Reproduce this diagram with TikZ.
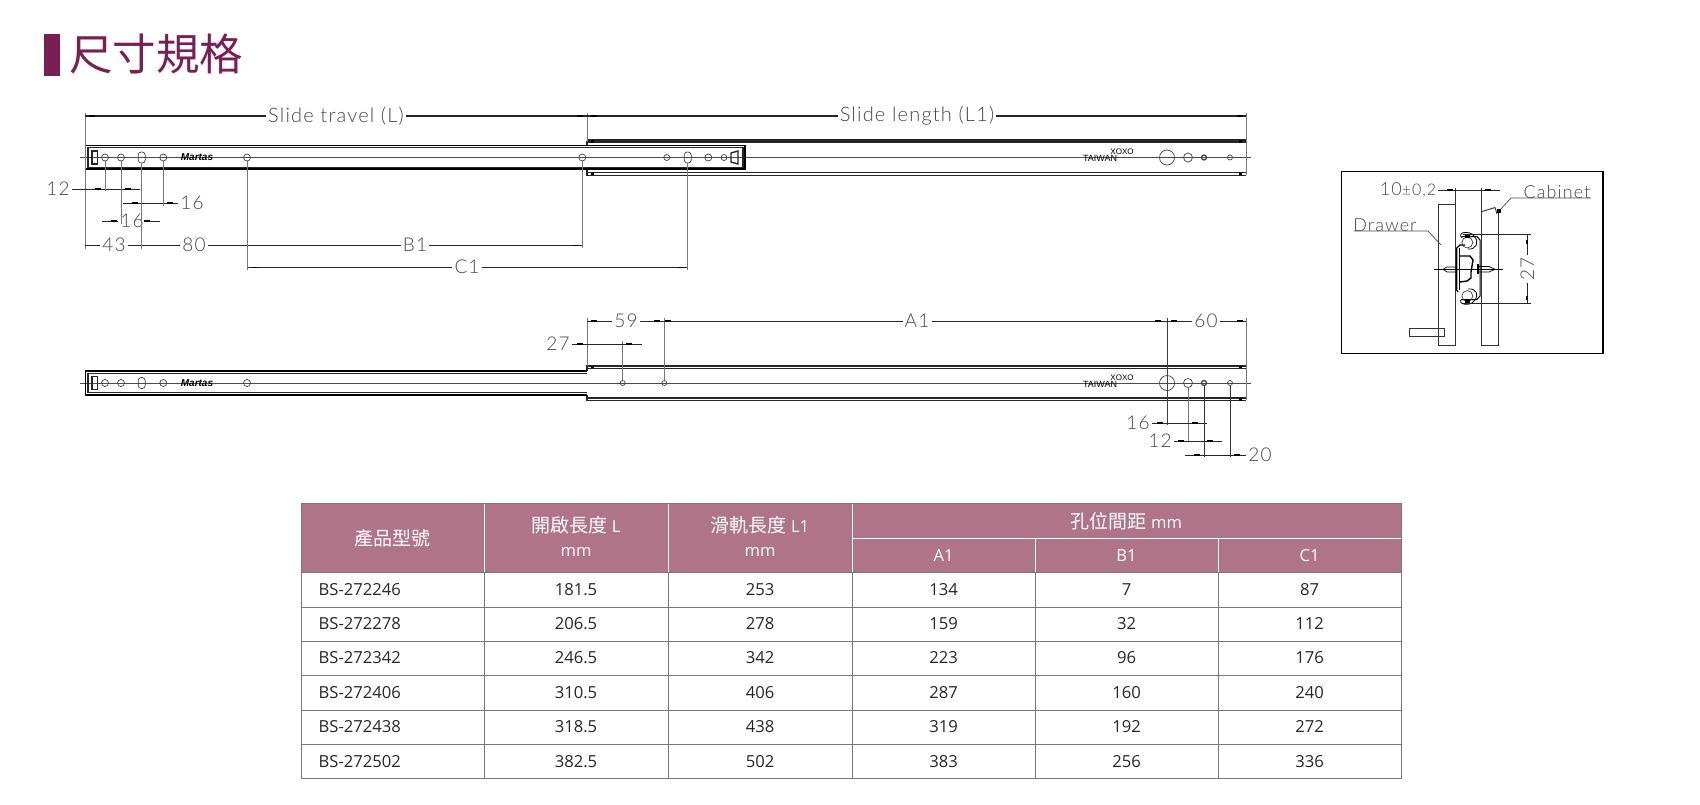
\documentclass[tikz,border=0pt]{standalone}
\usepackage{fontspec}
\setmainfont{Open Sans}
\newfontfamily\cjk{Noto Sans CJK TC}
\newfontfamily\cadfont[UprightFont=*-Light,LetterSpace=6]{Lato}
\newfontfamily\markfont{Liberation Sans}
\definecolor{titlec}{RGB}{122,30,86}
\definecolor{headc}{RGB}{176,116,137}
\definecolor{gridc}{RGB}{120,120,120}
\definecolor{cadc}{RGB}{70,70,70}
\tikzset{
	railline/.style={line width=1.1pt, color=black!85},
	railthick/.style={line width=1.5pt, color=black},
	centerline/.style={line width=0.9pt, color=black!70},
	dimline/.style={line width=1pt, color=black!85},
	extline/.style={line width=1pt, color=gridc},
	dimtick/.style={line width=2pt, color=black},
	hole/.style={draw, circle, minimum size=7pt, inner sep=0pt, line width=0.7pt, color=black!75},
	slot/.style={draw, rounded corners=3pt, minimum width=7pt, minimum height=11pt, inner sep=0pt, line width=0.7pt, color=black!75},
	cadtext/.style={font=\fontsize{19}{20}\selectfont\cadfont, text=cadc, inner sep=2pt},
	cadlabel/.style={cadtext, font=\fontsize{18}{20}\selectfont\cadfont},
	cadtitle/.style={cadtext, font=\fontsize{20}{22}\selectfont\cadfont},
	cell/.style={font=\fontsize{16.6}{18}\selectfont, text=black!85, inner sep=0pt},
	headtext/.style={font=\fontsize{16.6}{18}\selectfont, text=white, inner sep=0pt},
	headcjk/.style={font=\fontsize{19}{20}\selectfont\cjk, text=white, inner sep=0pt},
}
\begin{document}
\begin{tikzpicture}[x=1pt, y=-1pt]
	\useasboundingbox (0,0) rectangle (1700,804);
	% heading
	\fill[titlec] (44,34) rectangle (60,76);
	\node[font=\fontsize{43.5}{45}\selectfont\cjk, text=titlec, inner sep=0pt] (title) at (156,54) {尺寸規格};

	% upper slide
	\draw[railline] (587,145) -- (587,142) -- (1246,142);
	\draw[railline] (587,140) -- (1246,140);
	\draw[railline] (587,169) -- (587,175.5) -- (1246,175.5);
	\draw[railline] (587,172.5) -- (1246,172.5);
	\draw[centerline] (80,157.5) -- (1251,157.5);
	\draw[railthick] (85.5,145.5) rectangle (745,169);
	\draw[railthick, line width=2.2pt] (85.5,168.6) -- (745,168.6);
	\draw[railline] (88,147.8) -- (743,147.8) -- (743,167.2) -- (88,167.2) -- cycle;
	\draw[railline, line width=1.6pt] (92,151) rectangle (97.5,164);
	\draw[railline, line width=1.4pt] (738,151) -- (731,153) -- (731,162) -- (738,164) -- cycle;
	\node[hole] (h1) at (105,157.5) {};
	\node[hole] (h2) at (121,157.5) {};
	\node[slot] (h3) at (141.7,157.5) {};
	\node[hole] (h4) at (163.3,157.5) {};
	\node[hole] (h5) at (247,157.5) {};
	\node[hole] (h6) at (582.3,157.5) {};
	\node[hole, minimum size=6pt] (h7) at (666.7,157.5) {};
	\node[slot] (h8) at (687.7,157.5) {};
	\node[hole] (h9) at (708.3,157.5) {};
	\node[hole, minimum size=6pt] (h10) at (724,157.5) {};
	\node[font=\fontsize{10}{10}\selectfont\markfont\bfseries\itshape, inner sep=0pt] (mark1) at (197,157.5) {Martas};
	\node[font=\fontsize{9}{9}\selectfont\markfont, inner sep=0pt] (made1) at (1100,158.5) {TAIWAN};
	\node[font=\fontsize{8}{8}\selectfont\markfont, inner sep=0pt] (code1) at (1122,152) {XOXO};
	\node[hole, minimum size=15pt] (h11) at (1167,157.5) {};
	\node[hole, minimum width=9pt, minimum height=7pt] (h12) at (1188,157.5) {};
	\node[hole, minimum size=5pt, line width=1.3pt] (h13) at (1204,157.5) {};
	\node[hole, minimum size=5pt] (h14) at (1230,157.5) {};
	\fill (591,140) rectangle (594,142.5);
	\fill (591,172.5) rectangle (594,175);
	\fill (1239,140) rectangle (1241.5,142.5);
	\fill (1239,172.5) rectangle (1241.5,175);

	% upper dimensions
	\coordinate (lt) at (85.3,113);
	\coordinate (lb) at (85.3,249);
	\coordinate (mt) at (587,113);
	\coordinate (mb) at (587,142);
	\coordinate (rt) at (1246,113);
	\coordinate (rb) at (1246,175);
	\draw[extline] (lt) -- (lb);
	\draw[extline] (mt) -- (mb);
	\draw[extline] (rt) -- (rb);
	\node[cadtitle] (travel) at (336,116) {Slide travel (L)};
	\node[cadtitle] (length) at (917,116) {Slide length (L1)};
	\draw[dimline, line width=1.1pt] (85.3,116) -- (travel) (587,116) -- (length) -- (1246,116) (travel) -- (587,116);
	\node[cadtext] (d12) at (58,189) {12};
	\node[cadtext] (d16a) at (192,203) {16};
	\node[cadtext] (d16b) at (132,221) {16};
	\node[cadtext] (d43) at (114,245) {43};
	\node[cadtext] (d80) at (194,245) {80};
	\node[cadtext] (db1) at (415,245) {B1};
	\node[cadtext] (dc1) at (467,267) {C1};
	\coordinate (e12) at (140,189);
	\coordinate (e16a) at (123,203);
	\coordinate (e16b) at (102,221);
	\coordinate (e16c) at (160,221);
	\coordinate (e80) at (255,245);
	\coordinate (eb1a) at (582.3,245);
	\coordinate (ec1a) at (247,267);
	\coordinate (ec1b) at (687.7,267);
	\coordinate (x1) at (105,191);
	\coordinate (x2) at (121,224);
	\coordinate (x3) at (141.7,249);
	\coordinate (x4) at (163.3,206);
	\coordinate (x5) at (247,270);
	\coordinate (x6) at (582.3,248);
	\coordinate (x8) at (687.7,270);
	\draw[dimline] (d12) -- (e12);
	\draw[dimline] (d16a) -- (e16a);
	\draw[dimline] (e16b) -- (d16b) -- (e16c);
	\draw[dimline] (85.3,245) -- (d43) -- (d80) -- (e80);
	\draw[dimline] (247,245) -- (db1) -- (eb1a);
	\draw[dimline] (ec1a) -- (dc1) -- (ec1b);
	\draw[extline] (h1) -- (x1);
	\draw[extline] (h2) -- (x2);
	\draw[extline] (h3) -- (x3);
	\draw[extline] (h4) -- (x4);
	\draw[extline] (h5) -- (x5);
	\draw[extline] (h6) -- (x6);
	\draw[extline, line width=1.4pt] (h8) -- (x8);
	\foreach \tx/\ty in {92/116,580/116,594/116,1240/116,98/189,128/189,135/203,170/203,114/221,147/221}{
		\draw[dimtick] (\tx-3,\ty) -- (\tx+3,\ty);
	}
	\draw[dimtick, line width=1pt] (252,267) -- (257,267);
	\draw[dimtick, line width=1pt] (678,267) -- (684,267);
	\draw[dimtick, line width=1pt] (573,245) -- (578,245);

	% lower slide
	\draw[railline] (587,371) -- (587,366) -- (1246,366);
	\draw[railline] (587,368.3) -- (1246,368.3);
	\draw[railline] (587,395) -- (587,400.5) -- (1246,400.5);
	\draw[railline] (587,398) -- (1246,398);
	\draw[centerline] (80,383) -- (1251,383);
	\draw[railthick] (587,371) -- (85.5,371) -- (85.5,395) -- (587,395);
	\draw[railline] (587,373.4) -- (88,373.4) -- (88,392.7) -- (587,392.7);
	\draw[railline, line width=1.6pt] (92,376.5) rectangle (97.5,389.5);
	\node[hole] (k1) at (105,383) {};
	\node[hole] (k2) at (121,383) {};
	\node[slot] (k3) at (141.7,383) {};
	\node[hole] (k4) at (163.3,383) {};
	\node[hole] (k5) at (247,383) {};
	\node[hole, minimum size=5pt] (k6) at (622.7,383) {};
	\node[hole, minimum size=5pt] (k7) at (664.3,383) {};
	\node[font=\fontsize{10}{10}\selectfont\markfont\bfseries\itshape, inner sep=0pt] (mark2) at (197,383) {Martas};
	\node[font=\fontsize{9}{9}\selectfont\markfont, inner sep=0pt] (made2) at (1100,384) {TAIWAN};
	\node[font=\fontsize{8}{8}\selectfont\markfont, inner sep=0pt] (code2) at (1122,378) {XOXO};
	\node[hole, minimum size=15pt] (k8) at (1167,383) {};
	\node[hole, minimum width=9pt, minimum height=7pt] (k9) at (1188,383) {};
	\node[hole, minimum size=5pt, line width=1.3pt] (k10) at (1204,383) {};
	\node[hole, minimum size=5pt] (k11) at (1230,383) {};
	\fill (591,366) rectangle (594,368.3);
	\fill (1239,366) rectangle (1241.5,368.3);
	\fill (1239,398) rectangle (1241.5,400.5);

	% lower dimensions
	\node[cadtext] (d59) at (626,321) {59};
	\node[cadtext] (da1) at (917,321) {A1};
	\node[cadtext] (d60) at (1206,321) {60};
	\node[cadtext] (d27) at (558,344) {27};
	\node[cadtext] (l16) at (1138,423) {16};
	\node[cadtext] (l12) at (1160,441) {12};
	\node[cadtext] (l20) at (1260,455) {20};
	\coordinate (p1) at (587.3,318);
	\coordinate (p2) at (587.3,366);
	\coordinate (p3) at (664.3,318);
	\coordinate (p4) at (1246,318);
	\coordinate (p5) at (1246,400);
	\coordinate (p6) at (622.7,341);
	\coordinate (p7) at (1167,318);
	\coordinate (p8) at (1167,425);
	\coordinate (p9) at (1188,442);
	\coordinate (p10) at (1204,457);
	\coordinate (p11) at (1230,457);
	\coordinate (e27) at (641.7,344);
	\coordinate (e16l) at (1207,423);
	\coordinate (e12l) at (1222,441);
	\coordinate (e20l) at (1185,455);
	\draw[extline] (p1) -- (p2);
	\draw[extline] (p3) -- (k7);
	\draw[extline] (p4) -- (p5);
	\draw[extline, line width=1.4pt] (p6) -- (k6);
	\draw[extline, color=black!75] (p7) -- (p8);
	\draw[extline] (k9) -- (p9);
	\draw[extline, color=black!80] (k10) -- (p10);
	\draw[extline, color=black!80] (k11) -- (p11);
	\draw[dimline] (587.3,321) -- (d59) -- (664.3,321);
	\draw[dimline] (664.3,321) -- (da1) -- (d60) -- (1246,321);
	\draw[dimline] (d27) -- (e27);
	\draw[dimline] (l16) -- (e16l);
	\draw[dimline] (l12) -- (e12l);
	\draw[dimline] (e20l) -- (l20);
	\foreach \tx/\ty in {594/321,657/321,668/321,1158/321,1174/321,1240/321,580/344,629/344,1160/423,1195/423,1181/441,1210/441,1197/455,1237/455}{
		\draw[dimtick] (\tx-3,\ty) -- (\tx+3,\ty);
	}

	% cabinet section
	\draw[line width=1.2pt] (1341.3,171.5) rectangle (1603,353.3);
	\draw[line width=0.9pt, color=black!80] (1455.7,204.3) -- (1438.3,204.3) -- (1438.3,345.7) -- (1455.7,345.7);
	\draw[line width=0.9pt, color=black!80] (1455.7,188) -- (1455.7,345.7);
	\draw[line width=0.9pt, color=black!80] (1481.3,188) -- (1481.3,345.7) -- (1498.3,345.7) -- (1498.3,211);
	\draw[line width=0.9pt, color=black!80] (1481.3,211.7) -- (1495,207.5) -- (1497,214);
	\draw[line width=0.9pt, color=black!80] (1409.3,328.3) rectangle (1444,336.7);
	\draw[line width=1pt] (1434.3,269.3) -- (1503,269.3);
	\draw[line width=0.7pt] (1456,267) -- (1447,267) -- (1443,269.3) -- (1447,272) -- (1456,272);
	\draw[line width=0.7pt] (1479,266.5) -- (1489,266.5) -- (1495,269.3) -- (1489,272) -- (1479,272);
	\draw[line width=1.8pt] (1478,264) -- (1478,274);
	\draw[line width=1.2pt] (1458,292) -- (1456.7,290) -- (1456.7,248) -- (1460,245) -- (1465,245);
	\draw[line width=1.2pt] (1459.5,290) -- (1459.5,248);
	\draw[line width=1pt] (1462,236.5) -- (1477,236.5) -- (1480,240) -- (1480,296) -- (1477,299.5) -- (1462,299.5);
	\draw[line width=1.4pt] (1460,256) -- (1470,256) -- (1473,260) -- (1471,272) -- (1471,278) -- (1467,281) -- (1460,282);
	\node[hole, minimum size=11pt] (ball1) at (1467.3,242.5) {};
	\node[hole, minimum size=11pt] (ball2) at (1467.3,296) {};
	\draw[line width=0.8pt] (1462,238) .. controls (1456,232) and (1470,230) .. (1474,236) .. controls (1480,242) and (1476,250) .. (1468,249);
	\draw[line width=0.8pt] (1462,299) .. controls (1456,304) and (1470,307) .. (1474,301) .. controls (1480,295) and (1476,288) .. (1468,289);
	\fill (1464.5,233.5) rectangle (1469.5,238);
	\fill (1464.5,298.5) rectangle (1469.5,303);
	\node[cadlabel] (tol) at (1408,190) {10{\fontsize{16}{16}\selectfont ±0,2}};
	\node[cadtext, rotate=90] (d27s) at (1527.3,269) {27};
	\node[cadlabel] (drawer) at (1385,225) {Drawer};
	\node[cadlabel] (cabinet) at (1557,192) {Cabinet};
	\coordinate (etol) at (1500,190);
	\coordinate (s1) at (1463,234.3);
	\coordinate (s2) at (1531,234.3);
	\coordinate (s3) at (1463,303.3);
	\coordinate (s4) at (1531,303.3);
	\coordinate (s5) at (1527.3,234.3);
	\coordinate (s6) at (1527.3,303.3);
	\coordinate (u1) at (1354,231);
	\coordinate (u2) at (1428,231);
	\coordinate (u3) at (1441,245);
	\coordinate (v1) at (1591,198);
	\coordinate (v2) at (1511,198);
	\coordinate (v3) at (1499,211);
	\draw[dimline] (tol) -- (etol);
	\draw[dimline] (s1) -- (s2);
	\draw[dimline] (s3) -- (s4);
	\draw[dimline] (s5) -- (d27s) -- (s6);
	\draw[line width=0.7pt, color=black!70] (u1) -- (u2) -- (u3);
	\draw[line width=0.7pt, color=black!70] (v1) -- (v2) -- (v3);
	\fill (1497,208.5) rectangle (1501,212.5);
	\foreach \tx/\ty in {1449.5/190,1488/190}{
		\draw[dimtick] (\tx-3,\ty) -- (\tx+3,\ty);
	}
	\foreach \tx/\ty in {1527.3/242.3,1527.3/297.7}{
		\draw[dimtick] (\tx,\ty-2) -- (\tx,\ty+2);
	}

	% spec table
	\fill[headc] (301,503) rectangle (1401,572.5);
	\draw[white, line width=1pt] (484,503) -- (484,572.5);
	\draw[white, line width=1pt] (668,503) -- (668,572.5);
	\draw[white, line width=1pt] (852,503) -- (852,572.5);
	\draw[white, line width=1pt] (852,538.5) -- (1401,538.5);
	\draw[white, line width=1pt] (1035,538.5) -- (1035,572.5);
	\draw[white, line width=1pt] (1218,538.5) -- (1218,572.5);
	\draw[gridc, line width=1pt] (301,503) rectangle (1401,778);
	\foreach \ry in {572.6,607,641.4,675.8,710.2,744.6}{
		\draw[gridc, line width=1pt] (301,\ry) -- (1401,\ry);
	}
	\foreach \cx in {484,668,852,1035,1218}{
		\draw[gridc, line width=1pt] (\cx,572.6) -- (\cx,778);
	}
	\node[headcjk] (hmodel) at (392.5,538) {產品型號};
	\node[headcjk] (hopen) at (576,525) {開啟長度 {\rmfamily\fontsize{16.6}{18}\selectfont L}};
	\node[headtext] (hopenu) at (576,551.5) {mm};
	\node[headcjk] (hslide) at (760,525) {滑軌長度 {\rmfamily\fontsize{16.6}{18}\selectfont L1}};
	\node[headtext] (hslideu) at (760,551.5) {mm};
	\node[headcjk] (hpitch) at (1126.5,521) {孔位間距 {\rmfamily\fontsize{16.6}{18}\selectfont mm}};
	\node[headtext] (ha) at (943.5,555.5) {A1};
	\node[headtext] (hb) at (1126.5,555.5) {B1};
	\node[headtext] (hc) at (1309.5,555.5) {C1};
	\foreach \model/\lval/\lone/\aval/\bval/\cval [count=\i] in {
		BS-272246/181.5/253/134/7/87,
		BS-272278/206.5/278/159/32/112,
		BS-272342/246.5/342/223/96/176,
		BS-272406/310.5/406/287/160/240,
		BS-272438/318.5/438/319/192/272,
		BS-272502/382.5/502/383/256/336}{
		\node[cell, anchor=west] (r\i m) at (318.5,{572+34.4*(\i-0.5)}) {\model};
		\node[cell] (r\i l) at (576,{572+34.4*(\i-0.5)}) {\lval};
		\node[cell] (r\i o) at (760,{572+34.4*(\i-0.5)}) {\lone};
		\node[cell] (r\i a) at (943.5,{572+34.4*(\i-0.5)}) {\aval};
		\node[cell] (r\i b) at (1126.5,{572+34.4*(\i-0.5)}) {\bval};
		\node[cell] (r\i c) at (1309.5,{572+34.4*(\i-0.5)}) {\cval};
	}
\end{tikzpicture}
\end{document}
